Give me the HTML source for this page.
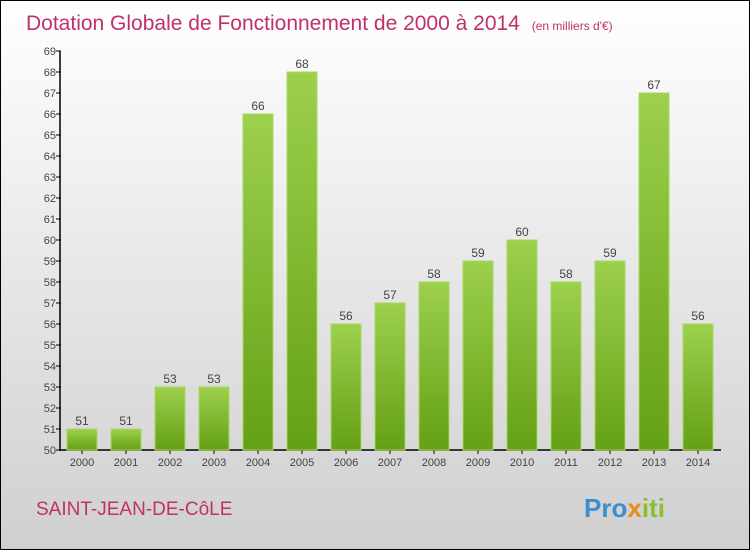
<!DOCTYPE html>
<html><head><meta charset="utf-8"><style>
body{margin:0;width:750px;height:550px;overflow:hidden;font-family:"Liberation Sans",sans-serif}
#wrap{position:absolute;left:0;top:0;width:748px;height:548px;border:1px solid #000;background:linear-gradient(#ffffff,#cfcfcf)}
</style></head><body>
<div id="wrap">
<svg id="chart" width="748" height="548">
<defs><linearGradient id="g" x1="0" y1="0" x2="0" y2="1"><stop offset="0" stop-color="#9dd04c"/><stop offset="1" stop-color="#64a016"/></linearGradient></defs>
<text x="25" y="29" font-size="21" fill="#c0306a">Dotation Globale de Fonctionnement de 2000 à 2014 <tspan font-size="12" dx="6">(en milliers d'€)</tspan></text>
<text x="35" y="514" font-size="19" fill="#c0306a">SAINT-JEAN-DE-CôLE</text>
<text x="583" y="516" font-size="26" font-weight="bold" fill="#f08a20"><tspan fill="#3a8fd0">Pro</tspan><tspan fill="#f08a20">x</tspan><tspan fill="#8ac030">iti</tspan></text>
<g id="axes"></g><g id="bars"></g>
</svg></div>
<script>
const years=["2000","2001","2002","2003","2004","2005","2006","2007","2008","2009","2010","2011","2012","2013","2014"];
const values=[51,51,53,53,66,68,56,57,58,59,60,58,59,67,56];
const yTicks=[50,51,52,53,54,55,56,57,58,59,60,61,62,63,64,65,66,67,68,69];
const ns="http://www.w3.org/2000/svg";
const yMin=50,yMax=69,y0=449,y1=50;
function ys(v){return y0-(v-yMin)*(y0-y1)/(yMax-yMin);}
function xs(i){return 81+i*44;}
function mk(t,a,p){const e=document.createElementNS(ns,t);for(const k in a)e.setAttribute(k,a[k]);p.appendChild(e);return e;}
const ax=document.getElementById('axes'),bg=document.getElementById('bars');
const yl=mk('line',{x1:59,y1:y1,x2:59,y2:y0+1,stroke:'#000','stroke-width':1.5},ax);


const xl=mk('line',{x1:59,y1:y0,x2:720,y2:y0,stroke:'#000','stroke-width':1.5},ax);


yTicks.forEach(v=>{
 mk('line',{x1:55,x2:60,y1:ys(v),y2:ys(v),stroke:'#000'},ax);
 const t=mk('text',{x:55,y:ys(v)+4,'text-anchor':'end','font-size':11,fill:'#444'},ax);t.textContent=v;
 
 
});
years.forEach((y,i)=>{
 const c=xs(i),v=values[i];
 mk('line',{x1:c,x2:c,y1:y0,y2:y0+4,stroke:'#000'},ax);
 const t=mk('text',{x:c,y:y0+16,'text-anchor':'middle','font-size':11,fill:'#444'},ax);t.textContent=y;
 
 
 const r=mk('rect',{x:c-15,y:ys(v),width:30,height:y0-ys(v),fill:'url(#g)',stroke:'#a8d860','stroke-width':1},bg);
 
 
 const l=mk('text',{x:c,y:ys(v)-4,'text-anchor':'middle','font-size':12,fill:'#444'},bg);l.textContent=v;
 
 
});
</script>
</body></html>
